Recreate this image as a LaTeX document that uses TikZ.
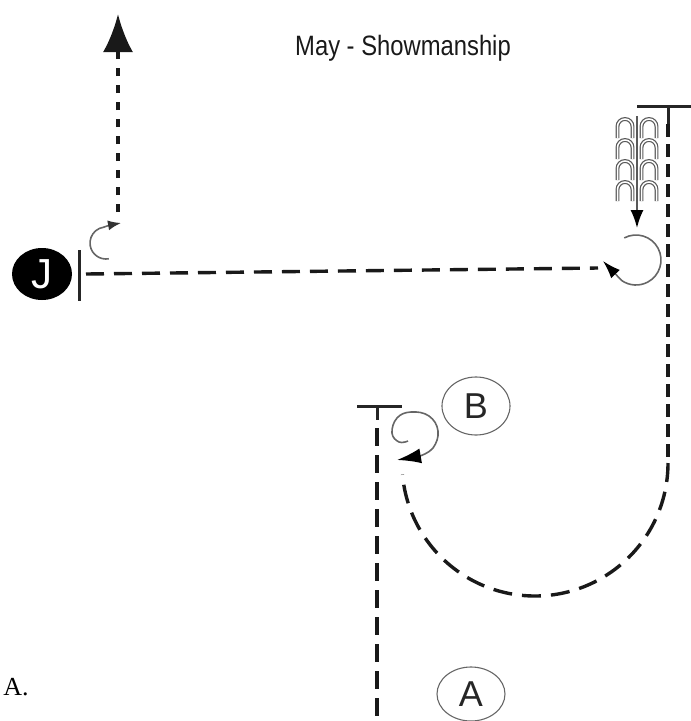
\documentclass[tikz,border=0pt]{standalone}
\usepackage{fontspec}
\setmainfont{Liberation Serif}
\setsansfont{Liberation Sans}
\usetikzlibrary{arrows.meta,shapes.geometric}
\tikzset{
  trackline/.style={line width=3.4pt, black!90},
  curlline/.style={line width=1.6pt, black!60},
  hoof/.style={line width=1.2pt, black!65, double=white, double distance=1.5pt},
  lettercircle/.style={ellipse, draw=black!60, line width=1.1pt, font=\sffamily\fontsize{36}{36}\selectfont, text=black!85, inner sep=0pt},
  bar/.style={line width=3pt, black!85},
}
\begin{document}
\begin{tikzpicture}[x=1pt,y=-1pt]
\useasboundingbox (0,0) rectangle (691,721);
% title
\node[font=\sffamily\fontsize{28}{28}\selectfont, xscale=0.85, text=black!90] (title) at (403,48) {May - Showmanship};
% J
\node[ellipse, fill=black, minimum width=60pt, minimum height=52pt, inner sep=0pt, text=white, font=\sffamily\fontsize{42}{42}\selectfont] (J) at (42,274) {J};
\coordinate (jbarTop) at (79,250);
\coordinate (jbarBot) at (79,301);
\draw[bar] (jbarTop) -- (jbarBot);
% horizontal track
\coordinate (hStart) at (86,274);
\coordinate (hEnd) at (598,268);
\draw[trackline, dash pattern=on 18pt off 10pt] (hStart) -- (hEnd);
% upward dotted track with arrow
\coordinate (upBot) at (118,212);
\coordinate (upTop) at (118,14);
\draw[trackline, line width=3.8pt, dash pattern=on 8pt off 9pt, -{Latex[length=38pt,width=30pt]}] (upBot) -- (upTop);
% small curl near J
\coordinate (jc) at (106,243);
\draw[curlline, -{Latex[length=13pt,width=10pt,black!80]}] ([shift={(80:16)}]jc) arc[start angle=80, end angle=262, radius=16] .. controls (110,225) .. (121,223);
% right T bar and vertical + big arc
\coordinate (rTop) at (668,106);
\coordinate (rBarL) at (637,106);
\coordinate (rBarR) at (691,106);
\coordinate (arcStart) at (668,463);
\draw[bar] (rBarL) -- (rBarR);
\draw[bar] (rTop) -- (668,124);
\draw[trackline, dash pattern=on 13pt off 7pt] (668,124) -- (arcStart);
\draw[trackline, dash pattern=on 19pt off 10pt] (arcStart) arc[start angle=0, end angle=175, radius=133];
% hoof prints
\foreach \cx in {625,649}{
  \foreach \ty in {119,140,161,182}{
    \draw[hoof] (\cx-7.5,\ty+19) -- (\cx-7.5,\ty+7.5) arc[start angle=180, end angle=360, radius=7.5] -- (\cx+7.5,\ty+19);
  }
}
\coordinate (hoofTop) at (637,116);
\coordinate (hoofTip) at (637,228);
\draw[line width=1.8pt, black!65, -{Latex[length=18pt,width=13pt,black]}] (hoofTop) -- (hoofTip);
% right curl
\coordinate (rc) at (636,260);
\draw[curlline, -{Latex[length=18pt,width=12pt,black]}] ([shift={(-118:25)}]rc) arc[start angle=-118, end angle=125, radius=25] -- (603,261);
% B T bar and vertical
\coordinate (bTop) at (377,406);
\draw[bar] (357,406) -- (402,406);
\draw[bar] (bTop) -- (377,420);
\draw[trackline, dash pattern=on 18pt off 9pt] (377,428) -- (377,721);
% B curl
\draw[curlline, -{Latex[length=24pt,width=15pt,black]}] plot[smooth, tension=0.7] coordinates {(408,441) (399,442) (392,433) (397,418) (411,412) (429,416) (438,431) (433,448) (420,456)} -- (397,460);
% letters
\node[lettercircle, minimum width=68pt, minimum height=58pt] (B) at (476,406) {B};
\node[lettercircle, minimum width=68pt, minimum height=54pt] (A) at (471,694) {A};
\node[font=\fontsize{26}{26}\selectfont, text=black] (label) at (16,687) {A.};
\end{tikzpicture}
\end{document}
